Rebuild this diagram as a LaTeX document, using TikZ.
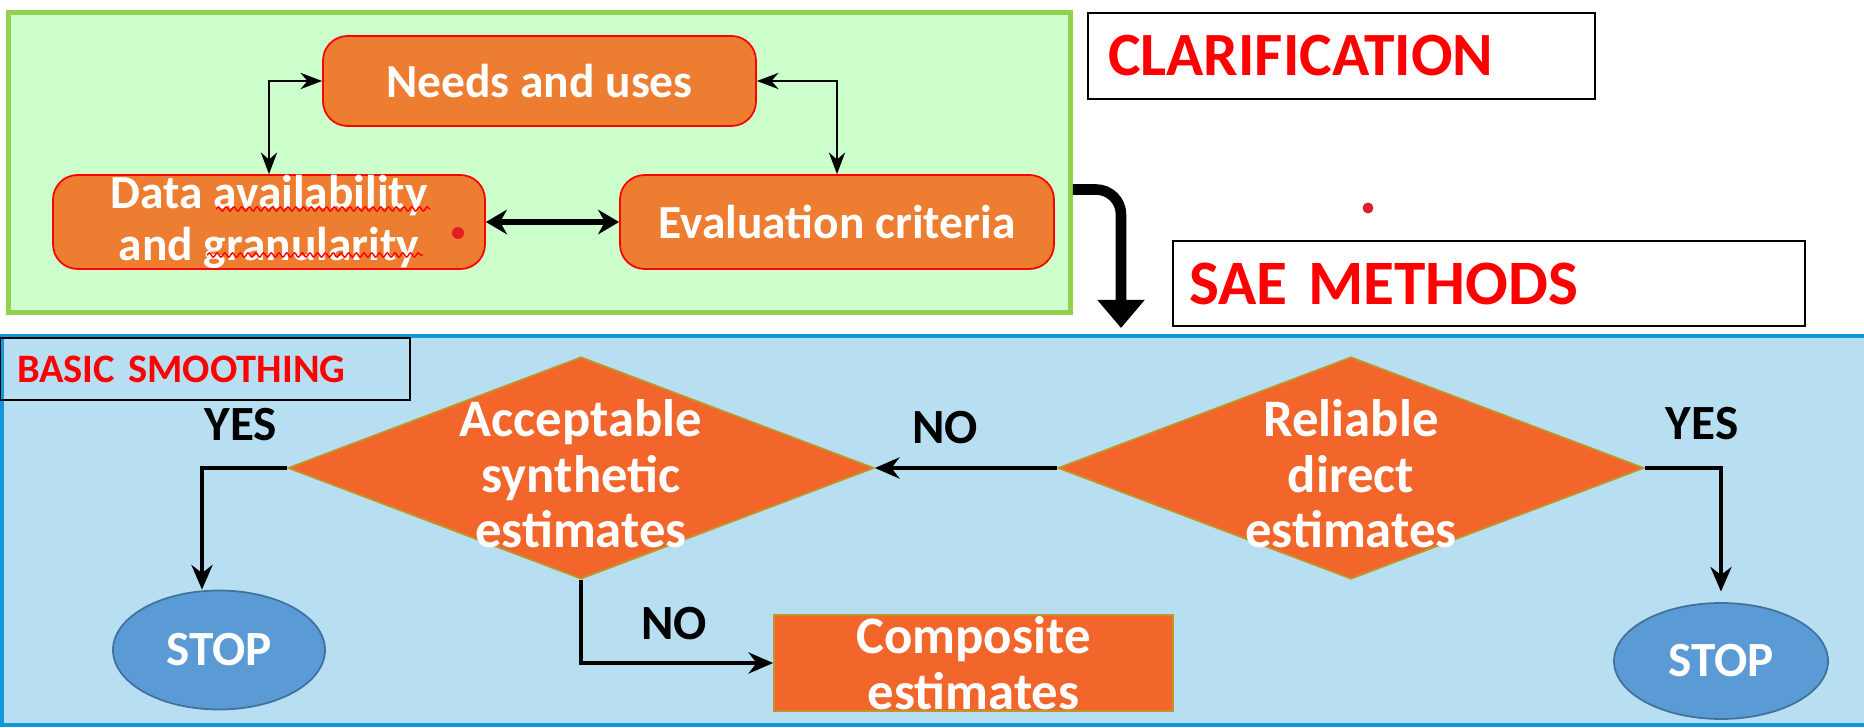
\documentclass[tikz,border=0pt]{standalone}
\usepackage{fontspec}
\setmainfont{Carlito}
\usepackage{tikz}
\usetikzlibrary{shapes.geometric, arrows.meta, decorations.pathmorphing}
\usepackage{xcolor}
\definecolor{clargreen}{RGB}{146, 208, 80}
\definecolor{clarfill}{RGB}{204, 255, 204}
\definecolor{boxorange}{RGB}{237, 125, 49}
\definecolor{deciorange}{RGB}{242, 102, 44}
\definecolor{decigold}{RGB}{191, 150, 40}
\definecolor{panelblue}{RGB}{20, 150, 219}
\definecolor{panelfill}{RGB}{183, 223, 241}
\definecolor{stopblue}{RGB}{91, 155, 213}
\definecolor{stopedge}{RGB}{65, 113, 156}
\definecolor{dotred}{RGB}{225, 30, 40}
\tikzstyle{arrow}=[line width=0.7pt, >=Stealth, color=black]
\tikzstyle{flow}=[line width=1.1pt, ->, >={Stealth[length=7pt,width=6pt]}, color=black]
\tikzstyle{bigarrow}=[line width=3pt, -{Triangle[length=8pt,width=13pt]}, rounded corners=0.25cm, color=black]
\tikzstyle{stepbox}=[shape=rectangle, rounded corners=7pt, draw=red, fill=boxorange, line width=0.5pt, inner ysep=0pt, text=white, align=center, font=\fontsize{13.5}{14.6}\selectfont\bfseries]
\tikzstyle{titlebox}=[shape=rectangle, draw=black, fill=white, line width=0.6pt, align=left, text=red, font=\bfseries]
\tikzstyle{decision}=[shape=diamond, draw=decigold, fill=deciorange, line width=0.5pt, inner sep=0pt, aspect=2.64, minimum width=5.86cm, minimum height=2.22cm]
\tikzstyle{decitext}=[text=white, align=center, font=\fontsize{15}{15.8}\selectfont\bfseries]
\tikzstyle{stopnode}=[shape=ellipse, draw=stopedge, fill=stopblue, line width=0.5pt, text=white, font=\fontsize{14}{16}\selectfont\bfseries]
\tikzstyle{yesno}=[text=black, font=\fontsize{14}{16}\selectfont\bfseries]
\tikzstyle{squiggle}=[draw=red, line width=0.4pt, decorate, decoration={snake, amplitude=0.6pt, segment length=2.2pt}]

\begin{document}
\begin{tikzpicture}
    \useasboundingbox (0,0) rectangle (18.64,-7.28);

    % Clarification frame and its steps
    \node[shape=rectangle, draw=clargreen, fill=clarfill, line width=1.4pt, minimum width=10.62cm, minimum height=3.00cm] (clar) at (5.395,-1.625) {};
    \node[stepbox, minimum width=4.33cm, minimum height=0.90cm] (needs) at (5.395,-0.81) {Needs and uses};
    \node[stepbox, minimum width=4.32cm, minimum height=0.94cm] (data) at (2.69,-2.22) {Data availability\\and granularity};
    \node[stepbox, minimum width=4.34cm, minimum height=0.94cm] (eval) at (8.37,-2.22) {Evaluation criteria};

    \draw[arrow, <->] (data.north) |- (needs.west);
    \draw[arrow, <->] (eval.north) |- (needs.east);
    \draw[arrow, <->, line width=1.7pt, >={Stealth[length=6pt,width=7pt]}] (data) -- (eval);

    % spell-check marks and stray dots
    \draw[squiggle] ([shift={(-0.53,0.13)}]data.center) -- ++(2.14,0);
    \draw[squiggle] ([shift={(-0.62,-0.33)}]data.center) -- ++(2.16,0);
    \fill[dotred] (4.58,-2.33) circle (0.06);
    \fill[dotred] (13.68,-2.08) circle (0.055);

    % Headings
    \node[titlebox, font=\fontsize{17.5}{20}\selectfont\bfseries, minimum width=5.07cm, minimum height=0.86cm, text width=4.67cm, inner xsep=0.2cm] (clartitle) at (13.415,-0.56) {CLARIFICATION};
    \node[titlebox, font=\fontsize{18}{20}\selectfont\bfseries, minimum width=6.32cm, minimum height=0.85cm, text width=6.0cm, inner xsep=0.16cm] (sae) at (14.89,-2.835) {SAE METHODS};

    % Methods panel
    \node[shape=rectangle, draw=panelblue, fill=panelfill, line width=1.1pt, minimum width=18.70cm, minimum height=3.89cm] (panel) at (9.37,-5.305) {};
    \coordinate (drop) at (11.21,-3.28);
    \draw[bigarrow] ([yshift=-0.27cm]clar.east) -| (drop);

    \node[titlebox, draw=black, fill=none, font=\fontsize{11.5}{13}\selectfont\bfseries, minimum width=4.10cm, minimum height=0.62cm, text width=3.76cm, inner xsep=0.17cm] (basic) at (2.05,-3.69) {BASIC SMOOTHING};

    % Decisions
    \node[decision] (acc) at (5.81,-4.68) {};
    \node[decitext] (acctext) at ([yshift=-0.06cm]acc.center) {Acceptable\\synthetic\\estimates};
    \node[decision] (rel) at (13.51,-4.68) {};
    \node[decitext] (reltext) at ([yshift=-0.06cm]rel.center) {Reliable\\direct\\estimates};

    \node[shape=rectangle, draw=decigold, fill=deciorange, line width=0.5pt, minimum width=3.99cm, minimum height=0.96cm, inner ysep=0pt, text=white, align=center, font=\fontsize{15}{15.8}\selectfont\bfseries] (comp) at (9.735,-6.63) {Composite\\estimates};

    \node[stopnode, minimum width=2.12cm, minimum height=1.19cm] (stopl) at (2.19,-6.50) {STOP};
    \node[stopnode, minimum width=2.14cm, minimum height=1.16cm] (stopr) at (17.21,-6.61) {STOP};

    % Decision arrows
    \draw[flow] (rel.west) -- (acc.east);
    \draw[flow, shorten >=3pt] (rel.east) -| (stopr.north);
    \draw[flow] (acc.west) -| ([xshift=-0.17cm]stopl.north);
    \draw[flow] (acc.south) |- (comp.west);

    \node[yesno] (yesl) at (2.41,-4.25) {YES};
    \node[yesno] (nor) at (9.45,-4.28) {NO};
    \node[yesno] (yesr) at (17.02,-4.24) {YES};
    \node[yesno] (nob) at (6.74,-6.24) {NO};

\end{tikzpicture}
\end{document}
